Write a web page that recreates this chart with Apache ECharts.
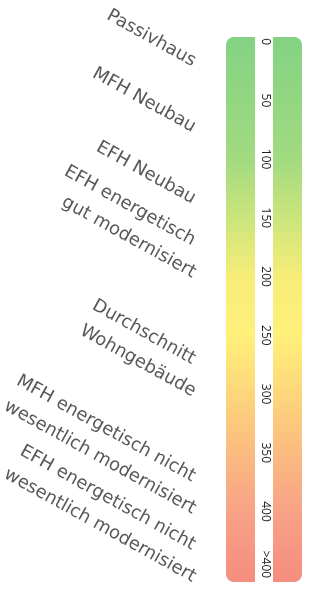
<!DOCTYPE html>
<html>
<head>
<meta charset="utf-8">
<script src="https://cdn.jsdelivr.net/npm/echarts@6/dist/echarts.min.js"></script>
<style>
html, body { margin: 0; padding: 0; background: #fff; }
#chart { width: 311px; height: 590px; }
</style>
</head>
<body>
<div id="chart"></div>
<script>
// Skala (kWh/m²a)
var scaleRange = [-4, 460];
var tickValues = [0, 50, 100, 150, 200, 250, 300, 350, 400, 445];
var tickLabels = ['0', '50', '100', '150', '200', '250', '300', '350', '400', '>400'];
var colorValues = [0, 100, 150, 200, 250, 300, 350, 400, 460];
var colorList = ['#84d383', '#a2da80', '#cbe57c', '#f7ed78', '#fff07a', '#fdd67b', '#fbbb80', '#f8a286', '#f58d7f'];

// Vergleichswerte
var labelNames = [
	'Passivhaus',
	'MFH Neubau',
	'EFH Neubau',
	'EFH energetisch\ngut modernisiert',
	'Durchschnitt\nWohngebäude',
	'MFH energetisch nicht\nwesentlich modernisiert',
	'EFH energetisch nicht\nwesentlich modernisiert'
];
var labelValues = [20, 76, 137, 200, 301, 401, 459];

var chart = echarts.init(document.getElementById('chart'));

var stops = [];
for (var i = 0; i < colorValues.length; i++) {
	stops.push({
		offset: (colorValues[i] - scaleRange[0]) / (scaleRange[1] - scaleRange[0]),
		color: colorList[i]
	});
}

var labelData = [];
for (var i = 0; i < labelNames.length; i++) {
	labelData.push({ name: labelNames[i], value: [1, labelValues[i]] });
}

var fontSize = 18;
var lineH = 28;
var angle = 29;
var pad = Math.round(lineH * Math.tan(angle * Math.PI / 180));

var option = {
	animation: false,
	grid: [
		{ left: 226, right: 9, top: 37, bottom: 8 },
		{ left: 0, right: 114, top: 37, bottom: 8 }
	],
	xAxis: [
		{ gridIndex: 0, type: 'value', min: 0, max: 1, show: false },
		{ gridIndex: 1, type: 'value', min: 0, max: 1, show: false }
	],
	yAxis: [
		{
			gridIndex: 0,
			type: 'value',
			inverse: true,
			min: scaleRange[0],
			max: scaleRange[1],
			position: 'left',
			offset: -39,
			z: 10,
			axisLine: { show: false },
			axisTick: { show: false },
			splitLine: { show: false },
			axisLabel: {
				customValues: tickValues,
				rotate: -90,
				margin: 0,
				align: 'center',
				verticalAlign: 'middle',
				fontFamily: 'Open Sans',
				fontSize: 12,
				color: '#222',
				formatter: function (v) {
					var idx = tickValues.indexOf(v);
					return idx >= 0 ? tickLabels[idx] : '';
				}
			}
		},
		{
			gridIndex: 1,
			type: 'value',
			inverse: true,
			min: scaleRange[0],
			max: scaleRange[1],
			show: false
		}
	],
	series: [
		{
			type: 'custom',
			xAxisIndex: 0,
			yAxisIndex: 0,
			data: [scaleRange],
			renderItem: function (params, api) {
				var p0 = api.coord([0, api.value(0)]);
				var p1 = api.coord([1, api.value(1)]);
				var w = p1[0] - p0[0];
				var h = p1[1] - p0[1];
				var gap = 18;
				var half = (w - gap) / 2;
				var fill = { type: 'linear', x: 0, y: 0, x2: 0, y2: 1, colorStops: stops };
				return {
					type: 'group',
					children: [
						{
							type: 'rect',
							shape: { x: p0[0], y: p0[1], width: half, height: h, r: [8, 0, 0, 8] },
							style: { fill: fill }
						},
						{
							type: 'rect',
							shape: { x: p0[0] + half + gap, y: p0[1], width: half, height: h, r: [0, 8, 8, 0] },
							style: { fill: fill }
						}
					]
				};
			}
		},
		{
			type: 'scatter',
			xAxisIndex: 1,
			yAxisIndex: 1,
			symbolSize: 1,
			itemStyle: { color: 'rgba(0,0,0,0)' },
			clip: false,
			data: labelData,
			label: {
				show: true,
				position: [0, 0],
				offset: [-3, 13],
				align: 'right',
				verticalAlign: 'bottom',
				rotate: -angle,
				fontFamily: 'DejaVu Sans',
				fontSize: fontSize,
				lineHeight: lineH,
				color: '#2e2e2e',
				formatter: function (p) {
					var lines = p.name.split('\n');
					if (lines.length < 2) return lines[0];
					return '{a|' + lines[0] + '}\n{b|' + lines[1] + '}';
				},
				rich: {
					a: { fontFamily: 'DejaVu Sans', fontSize: fontSize, lineHeight: lineH, color: '#2e2e2e', padding: [0, pad, 0, 0] },
					b: { fontFamily: 'DejaVu Sans', fontSize: fontSize, lineHeight: lineH, color: '#2e2e2e' }
				}
			}
		}
	]
};

chart.setOption(option);
</script>
</body>
</html>
